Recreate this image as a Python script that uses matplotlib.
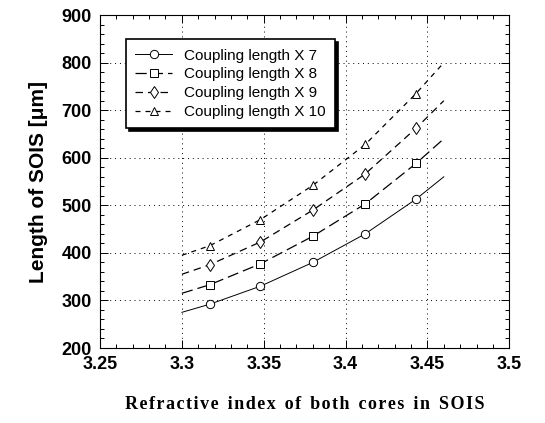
import matplotlib.pyplot as plt
from matplotlib.ticker import MultipleLocator

# refractive index values (curve ends + marker positions)
n_index = [3.30, 3.317, 3.348, 3.38, 3.412, 3.443, 3.46]

len_x7 = [275, 292, 330, 380, 440, 513, 560]
len_x8 = [315, 333, 377, 435, 503, 588, 640]
len_x9 = [355, 375, 423, 490, 566, 662, 720]
len_x10 = [395, 415, 470, 542, 628, 735, 800]

labels = ["Coupling length X 7", "Coupling length X 8",
          "Coupling length X 9", "Coupling length X 10"]
xtick_vals = [3.25, 3.3, 3.35, 3.4, 3.45, 3.5]
xtick_labels = ["3.25", "3.3", "3.35", "3.4", "3.45", "3.5"]

plt.rcParams["font.family"] = ["Liberation Sans", "DejaVu Sans"]
plt.rcParams["font.weight"] = "bold"

fig = plt.figure(figsize=(5.45, 4.23), dpi=100)
ax = fig.add_axes([0.1835, 0.1773, 0.751, 0.787])

styles = [
    dict(ls="-", lw=0.7, marker="o"),
    dict(ls=(0, (9, 4)), lw=0.9, marker="s"),
    dict(ls=(0, (6, 4)), lw=0.9, marker="d"),
    dict(ls=(0, (4, 4)), lw=0.9, marker="^"),
]
for ys, lab, st in zip([len_x7, len_x8, len_x9, len_x10], labels, styles):
    ax.plot(n_index, ys, color="black", ls=st["ls"], lw=st["lw"])
    ax.plot(n_index[1:-1], ys[1:-1], ls="none", marker=st["marker"], ms=6,
            mfc="white", mec="black", mew=0.7)

# legend proxies with markers
handles = [plt.Line2D([], [], color="black", ls=st["ls"], lw=st["lw"],
                      marker=st["marker"], ms=6, mfc="white", mec="black", mew=0.7)
           for st in styles]
leg = ax.legend(handles, labels, loc="upper left", bbox_to_anchor=(0.045, 0.95),
                fancybox=False, shadow={"color": "black", "alpha": 1},
                edgecolor="black", framealpha=1, handlelength=2.4,
                borderpad=0.6, labelspacing=0.32,
                prop={"size": 11, "weight": "normal"})
leg.get_frame().set_linewidth(1.2)

ax.set_xlim(3.25, 3.5)
ax.set_ylim(200, 900)
ax.xaxis.set_minor_locator(MultipleLocator(0.01))
ax.yaxis.set_major_locator(MultipleLocator(100))
ax.yaxis.set_minor_locator(MultipleLocator(20))
ax.set_xticks(xtick_vals)
ax.set_xticklabels(xtick_labels)
ax.tick_params(which="both", direction="in", top=True, right=True, width=0.7)
ax.tick_params(which="major", length=6, labelsize=13, pad=6)
ax.tick_params(which="minor", length=3)
ax.grid(True, which="major", ls=(0, (1, 4)), color="black", lw=0.7)
for sp in ax.spines.values():
    sp.set_linewidth(0.8)

ax.set_ylabel("Length of SOIS [\u03bcm]", fontweight="bold", fontsize=15, labelpad=10)
ax.set_xlabel("R e f r a c t i v e   i n d e x   o f   b o t h   c o r e s   i n   S O I S".replace("   ", "\u2002").replace(" ", "\u200a"),
              fontfamily="Liberation Serif", fontweight="bold", fontsize=13, labelpad=16)

fig.savefig("out.png", dpi=100)
